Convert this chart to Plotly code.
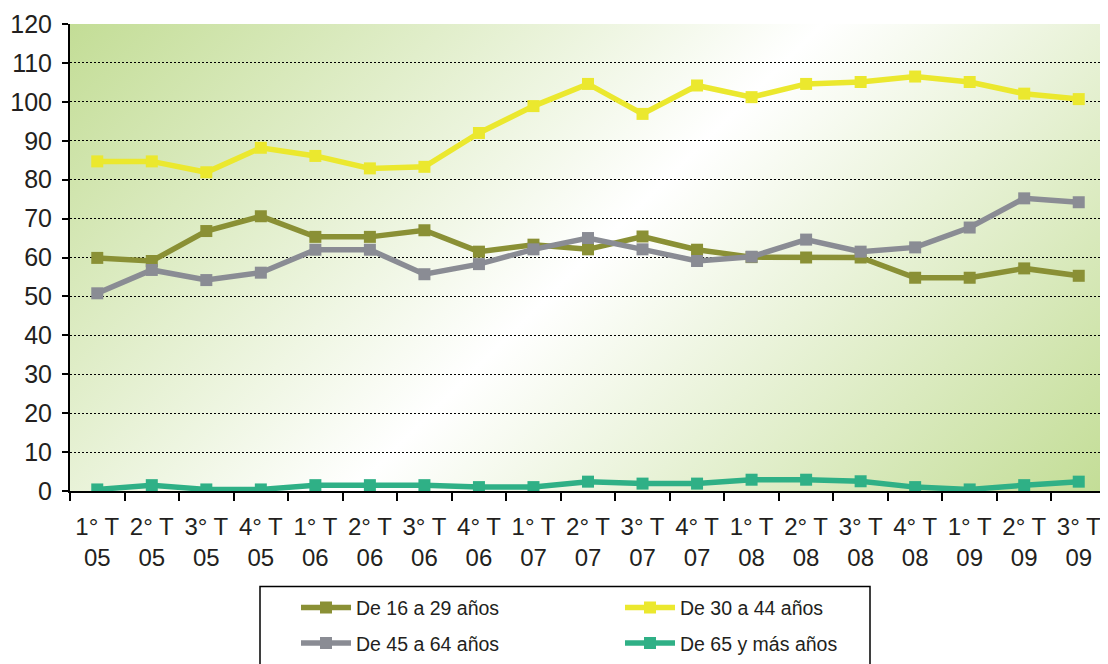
import base64
import plotly.graph_objects as go

quarters = ["1° T", "2° T", "3° T", "4° T", "1° T", "2° T", "3° T", "4° T", "1° T", "2° T",
            "3° T", "4° T", "1° T", "2° T", "3° T", "4° T", "1° T", "2° T", "3° T"]
years = ["05", "05", "05", "05", "06", "06", "06", "06", "07", "07",
         "07", "07", "08", "08", "08", "08", "09", "09", "09"]
categories = [f"{q}<br>{y}" for q, y in zip(quarters, years)]

de_16_29 = [59.9, 59.1, 66.8, 70.6, 65.3, 65.3, 67.0, 61.5, 63.3, 62.1,
            65.4, 62.0, 60.1, 60.0, 60.0, 54.8, 54.8, 57.2, 55.3]
de_30_44 = [84.7, 84.7, 81.9, 88.2, 86.1, 82.9, 83.3, 92.0, 98.9, 104.6,
            96.9, 104.2, 101.2, 104.6, 105.1, 106.5, 105.1, 102.1, 100.7]
de_45_64 = [50.8, 56.8, 54.2, 56.1, 62.0, 62.0, 55.7, 58.3, 62.1, 65.0,
            62.1, 59.1, 60.2, 64.6, 61.5, 62.6, 67.7, 75.2, 74.2]
de_65_mas = [0.4, 1.5, 0.4, 0.4, 1.5, 1.5, 1.5, 1.0, 1.0, 2.4,
             1.9, 1.9, 2.9, 2.9, 2.5, 1.0, 0.4, 1.5, 2.4]

series = [
    ("De 16 a 29 años", de_16_29, "#8a9035", "legend", "g1"),
    ("De 30 a 44 años", de_30_44, "#ebe82e", "legend2", "g2"),
    ("De 45 a 64 años", de_45_64, "#8a8c94", "legend", "g3"),
    ("De 65 y más años", de_65_mas, "#2fb086", "legend2", "g4"),
]

fig = go.Figure()
for name, vals, color, leg, grp in series:
    fig.add_trace(go.Scatter(
        x=categories, y=vals, name=name, mode="lines+markers",
        line=dict(color=color, width=5.5),
        marker=dict(symbol="square", size=12, color=color),
        legend=leg, legendgroup=grp,
    ))

svg = ('<svg xmlns="http://www.w3.org/2000/svg" width="1036" height="470" viewBox="0 0 1036 470" '
       'preserveAspectRatio="none"><defs><linearGradient id="g" gradientUnits="userSpaceOnUse" '
       'x1="0" y1="0" x2="753" y2="753"><stop offset="0" stop-color="#c3dd96"/>'
       '<stop offset="0.5" stop-color="#ffffff"/><stop offset="1" stop-color="#c3dd96"/>'
       '</linearGradient></defs><rect width="1036" height="470" fill="url(#g)"/></svg>')
bg_src = "data:image/svg+xml;base64," + base64.b64encode(svg.encode()).decode()

font_family = "Liberation Sans, Arial, sans-serif"
text_color = "#231f20"

# page body has an 8px default margin; figure sized to the visible region
OFF = 8
W, H = 1108 - OFF, 664 - OFF
L, T, PW, PH = 70 - OFF, 24 - OFF, 1036, 470


def px_x(x):
    return (x - OFF - L) / PW


def px_y(y):
    return (T + PH - (y - OFF)) / PH


fig.update_layout(
    width=W, height=H, autosize=False,
    margin=dict(l=L, r=W - L - PW, t=T, b=H - T - PH),
    paper_bgcolor="white", plot_bgcolor="rgba(0,0,0,0)",
    font=dict(family=font_family, color=text_color),
    images=[dict(source=bg_src, xref="paper", yref="paper", x=0, y=1, sizex=1, sizey=1,
                 sizing="stretch", layer="below", xanchor="left", yanchor="top")],
    xaxis=dict(type="category", range=[-0.5, len(categories) - 0.5], autorange=False,
               tickson="boundaries", ticks="outside", ticklen=8, tickwidth=2,
               tickcolor="black", showline=True, linecolor="black", linewidth=2,
               showgrid=False, tickfont=dict(size=24, color=text_color), tickangle=0,
               ticklabelstandoff=13, automargin=False),
    yaxis=dict(range=[0, 120], dtick=10, ticks="outside", ticklen=6, tickwidth=2,
               tickcolor="black", showline=True, linecolor="black", linewidth=2,
               showgrid=True, gridcolor="black", gridwidth=1, griddash="2px,2px",
               zeroline=False, tickfont=dict(size=25, color=text_color),
               ticklabelstandoff=5, automargin=False),
    legend=dict(x=px_x(296), y=px_y(592), xanchor="left", yanchor="top", orientation="v",
                bgcolor="rgba(0,0,0,0)", borderwidth=0, tracegroupgap=7, itemwidth=50,
                font=dict(size=19.5, color=text_color)),
    legend2=dict(x=px_x(620), y=px_y(592), xanchor="left", yanchor="top", orientation="v",
                 bgcolor="rgba(0,0,0,0)", borderwidth=0, tracegroupgap=7, itemwidth=50,
                 font=dict(size=19.5, color=text_color)),
    shapes=[dict(type="rect", xref="paper", yref="paper",
                 x0=px_x(260), x1=px_x(870), y0=px_y(590), y1=px_y(720),
                 line=dict(color="black", width=1.5), fillcolor="rgba(0,0,0,0)", layer="below")],
)

fig.write_html("out.html")
